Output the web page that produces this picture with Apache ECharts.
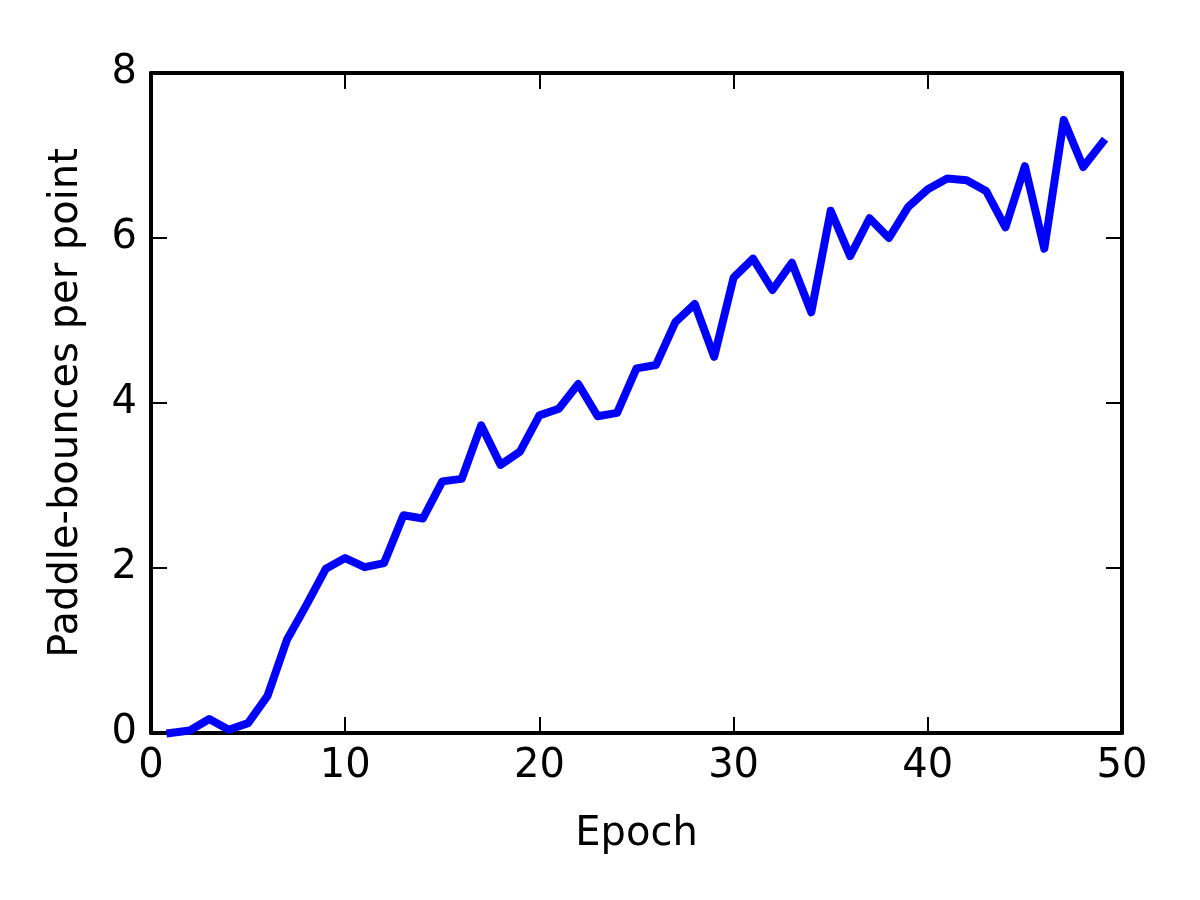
<!DOCTYPE html>
<html>
<head>
<meta charset="utf-8">
<title>Paddle-bounces per point</title>
<script src="https://cdn.jsdelivr.net/npm/echarts@6/dist/echarts.min.js"></script>
<style>
  html, body { margin: 0; padding: 0; background: #fff; }
  #chart { width: 1200px; height: 900px; }
</style>
</head>
<body>
<div id="chart"></div>
<script>
// values
const epochs = [
  1, 2, 3, 4, 5, 6, 7, 8, 9, 10,
  11, 12, 13, 14, 15, 16, 17, 18, 19, 20,
  21, 22, 23, 24, 25, 26, 27, 28, 29, 30,
  31, 32, 33, 34, 35, 36, 37, 38, 39, 40,
  41, 42, 43, 44, 45, 46, 47, 48, 49
]
const bounces = [
  0.00, 0.03, 0.17, 0.04, 0.12, 0.45, 1.13, 1.55, 1.99, 2.12,
  2.01, 2.06, 2.64, 2.60, 3.05, 3.08, 3.73, 3.25, 3.41, 3.85,
  3.93, 4.23, 3.84, 3.88, 4.42, 4.46, 4.98, 5.20, 4.56, 5.52,
  5.75, 5.37, 5.70, 5.10, 6.33, 5.78, 6.24, 6.00, 6.38, 6.59,
  6.72, 6.70, 6.57, 6.13, 6.87, 5.87, 7.43, 6.86, 7.16
]
const xTicks = { min: 0, max: 50, interval: 10 }
const yTicks = { min: 0, max: 8, interval: 2 }

const font = 'DejaVu Sans'
// onZero off, otherwise the top/right axes get pulled onto the zero lines
const frameLine = { show: true, onZero: false, lineStyle: { color: '#000', width: 4 } }
const innerTick = { show: true, inside: true, length: 16, lineStyle: { color: '#000', width: 2 } }

const chart = echarts.init(document.getElementById('chart'))
chart.setOption({
    animation: false,
    backgroundColor: '#fff',
    grid: {
        left: 151,
        right: 78,
        top: 73,
        bottom: 167
    },
    xAxis: [
        {
            type: 'value',
            position: 'bottom',
            ...xTicks,
            name: 'Epoch',
            nameLocation: 'middle',
            nameGap: 82,
            nameTextStyle: { fontFamily: font, fontSize: 40, color: '#000' },
            axisLine: frameLine,
            axisTick: innerTick,
            axisLabel: { fontFamily: font, fontSize: 40, color: '#000', margin: 14 },
            splitLine: { show: false }
        },
        {
            type: 'value',
            position: 'top',
            ...xTicks,
            axisLine: frameLine,
            axisTick: innerTick,
            axisLabel: { show: false },
            splitLine: { show: false }
        }
    ],
    yAxis: [
        {
            type: 'value',
            position: 'left',
            ...yTicks,
            name: 'Paddle-bounces per point',
            nameLocation: 'middle',
            nameGap: 64,
            nameTextStyle: { fontFamily: font, fontSize: 40, color: '#000' },
            axisLine: frameLine,
            axisTick: innerTick,
            axisLabel: { fontFamily: font, fontSize: 40, color: '#000', margin: 14 },
            splitLine: { show: false }
        },
        {
            type: 'value',
            position: 'right',
            ...yTicks,
            axisLine: frameLine,
            axisTick: innerTick,
            axisLabel: { show: false },
            splitLine: { show: false }
        }
    ],
    series: [
        {
            type: 'line',
            xAxisIndex: 0,
            yAxisIndex: 0,
            symbol: 'none',
            clip: false,
            lineStyle: { color: '#0000ff', width: 8, join: 'round', cap: 'square' },
            data: epochs.map((e, i) => [e, bounces[i]])
        }
    ]
})
</script>
</body>
</html>
